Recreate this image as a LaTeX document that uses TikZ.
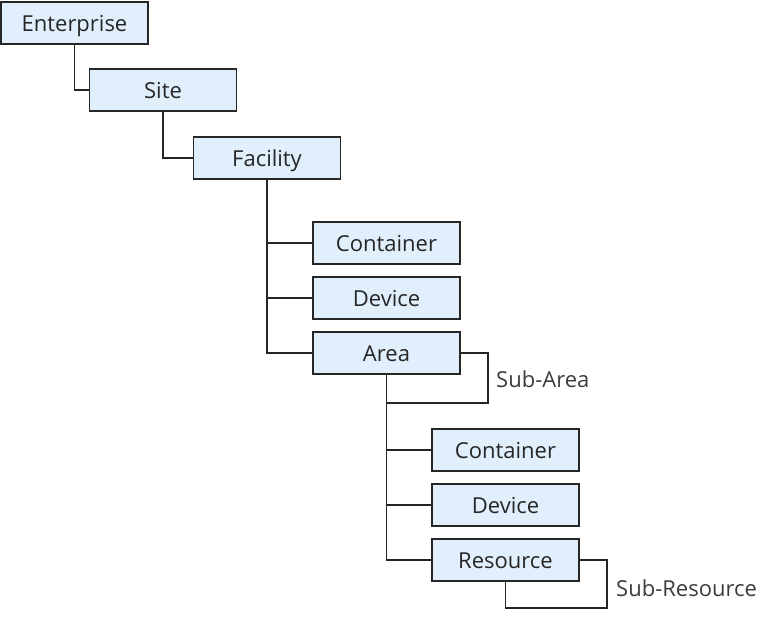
\documentclass[tikz,border=0pt]{standalone}
\usepackage{fontspec}
\setmainfont{Open Sans}
\usepackage{tikz}
\usetikzlibrary{positioning}
\definecolor{boxblue}{RGB}{225, 239, 252}
\definecolor{edgegray}{RGB}{38, 38, 38}

\begin{document}
\begin{tikzpicture}[x=1pt, y=-1pt]
\tikzstyle{level} = [rectangle, minimum width=147pt, minimum height=42pt, inner sep=0pt, text height=16pt, text depth=0pt, draw=edgegray, line width=1.8pt, fill=boxblue, text=edgegray, font=\fontsize{22}{26}\selectfont]
\tikzstyle{link} = [draw=edgegray, line width=1.8pt]
\tikzstyle{note} = [anchor=west, inner sep=0pt, text=edgegray!90, font=\fontsize{22}{26}\selectfont]

\useasboundingbox (0,0) rectangle (776,616);

\node (enterprise) [level] at (74.5,23) {Enterprise};
\node (site) [level] at (163,90) {Site};
\node (facility) [level] at (267,158) {Facility};
\node (container) [level] at (386.5,243) {Container};
\node (device) [level] at (386.5,298) {Device};
\node (area) [level] at (386.5,353) {Area};
\node (subcontainer) [level] at (505.5,450) {Container};
\node (subdevice) [level] at (505.5,505) {Device};
\node (resource) [level] at (505.5,560) {Resource};

\coordinate (arealoop) at (488,403);
\coordinate (resloop) at (607,608);

\draw [link] (enterprise.south) |- (site.west);
\draw [link] (site.south) |- (facility.west);
\draw [link] (facility.south) |- (container.west);
\draw [link] (facility.south) |- (device.west);
\draw [link] (facility.south) |- (area.west);
\draw [link] (area.south) |- (subcontainer.west);
\draw [link] (area.south) |- (subdevice.west);
\draw [link] (area.south) |- (resource.west);
\draw [link] (area.east) -| (arealoop) -- (arealoop -| area.south);
\draw [link] (resource.east) -| (resloop) -| (resource.south);

\node (subarealabel) [note] at (496,379) {Sub-Area};
\node (subreslabel) [note] at (616,588) {Sub-Resource};
\end{tikzpicture}
\end{document}
